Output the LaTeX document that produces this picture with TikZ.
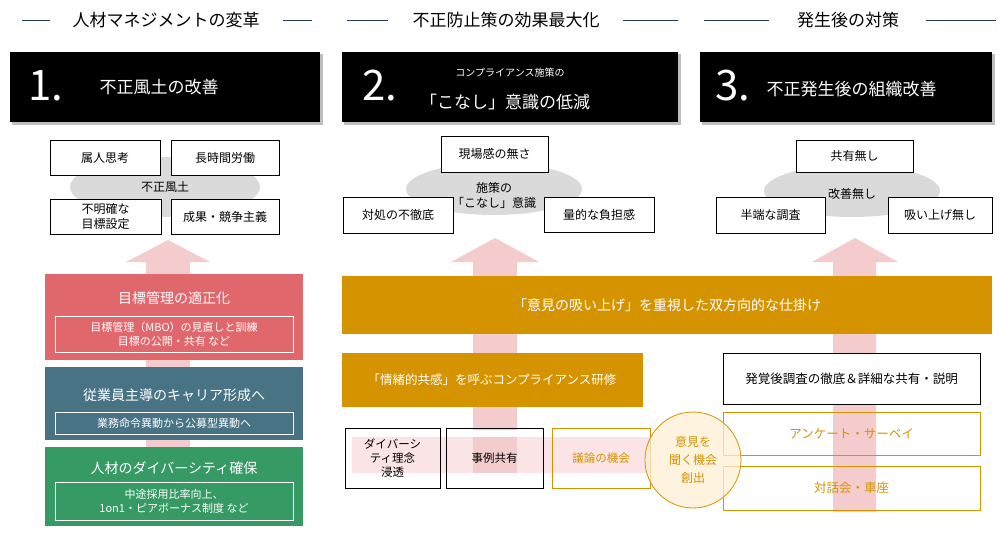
\documentclass[tikz,border=0pt]{standalone}
\usepackage{fontspec}
\setmainfont{Noto Sans CJK JP}
\usetikzlibrary{shapes.geometric}
\definecolor{pinkA}{HTML}{F4CCCD}
\definecolor{pinkB}{HTML}{FBE4E5}
\definecolor{redB}{HTML}{E0676C}
\definecolor{blueB}{HTML}{477385}
\definecolor{greenB}{HTML}{359A63}
\definecolor{orgB}{HTML}{D59300}
\definecolor{grayE}{HTML}{DADADA}
\definecolor{lineC}{HTML}{1F3F4F}
\newcommand\mysetfs[1]{\fontsize{#1pt}{#1pt}\selectfont\setlength{\baselineskip}{1.25\baselineskip}}
\tikzset{
 fs/.style={font=\mysetfs{#1}},
 wbox/.style={draw=black,fill=white,line width=0.8pt,align=center,fs=12},
 hdr/.style={fs=17},
 hl/.style={draw=lineC,line width=0.8pt},
}
\begin{document}
\begin{tikzpicture}[x=1pt,y=-1pt]
\useasboundingbox (0,0) rectangle (1000,540);
\fill[white] (0,0) rectangle (1000,540);
% headers
\draw[hl] (22,20) -- (50,20); \draw[hl] (283,20) -- (312,20);
\node[hdr] (h1) at (166,20) {人材マネジメントの変革};
\draw[hl] (347,20) -- (388,20); \draw[hl] (623,20) -- (678,20);
\node[hdr] (h2) at (506,20) {不正防止策の効果最大化};
\draw[hl] (704,20) -- (769,20); \draw[hl] (926,20) -- (996,20);
\node[hdr] (h3) at (848,20) {発生後の対策};
% black boxes with shadow
\foreach \a/\b in {10/320,342/678,700/992}{
 \fill[black!25] (\a+2,54) rectangle (\b+3,125);
 \fill[black] (\a,52) rectangle (\b,122);}
\node[text=white,fs=42] (n1) at (46,86) {1.};
\node[text=white,fs=17,anchor=west] (t1) at (96,87) {不正風土の改善};
\node[text=white,fs=42] (n2) at (380,86) {2.};
\node[text=white,fs=10] (t2a) at (510,73) {コンプライアンス施策の};
\node[text=white,fs=17] (t2b) at (505,102) {「こなし」意識の低減};
\node[text=white,fs=42] (n3) at (733,86) {3.};
\node[text=white,fs=17,anchor=west] (t3) at (763,89) {不正発生後の組織改善};
% col1 cloud
\node[ellipse,fill=grayE,minimum width=190,minimum height=60,inner sep=0] (e1) at (165,187) {};
\node[fs=12] (e1t) at (165,187) {不正風土};
\node[wbox,minimum width=110,minimum height=35] (b11) at (105,157.5) {属人思考};
\node[wbox,minimum width=108,minimum height=35] (b12) at (225,158) {長時間労働};
\node[wbox,minimum width=111,minimum height=35] (b13) at (105.5,216.5) {不明確な\\目標設定};
\node[wbox,minimum width=108,minimum height=35] (b14) at (225,216.5) {成果・競争主義};
% col1 arrow
\fill[pinkA] (146,520) -- (146,262) -- (126,262) -- (168,240) -- (210,262) -- (190,262) -- (190,520) -- cycle;
\fill[redB] (45,274) rectangle (303,360);
\node[text=white,fs=14] (r1) at (174,298) {目標管理の適正化};
\draw[white,line width=0.8pt] (55,316) rectangle (293,352);
\node[text=white,fs=11,align=center] (r2) at (174,334) {目標管理（MBO）の見直しと訓練\\目標の公開・共有 など};
\fill[blueB] (45,367) rectangle (303,440);
\node[text=white,fs=14] (bl1) at (174,395) {従業員主導のキャリア形成へ};
\draw[white,line width=0.8pt] (55,412) rectangle (293,434);
\node[text=white,fs=11] (bl2) at (174,423) {業務命令異動から公募型異動へ};
\fill[greenB] (45,447) rectangle (303,526);
\node[text=white,fs=14] (g1) at (174,468) {人材のダイバーシティ確保};
\draw[white,line width=0.8pt] (55,482) rectangle (293,520);
\node[text=white,fs=11,align=center] (g2) at (174,501) {中途採用比率向上、\\1on1・ピアボーナス制度 など};
% col2 cloud
\node[ellipse,fill=grayE,minimum width=176,minimum height=52,inner sep=0] (e2) at (494,189) {};
\node[wbox,minimum width=107,minimum height=36] (b21) at (494.5,154) {現場感の無さ};
\node[wbox,minimum width=110,minimum height=36] (b22) at (398,215) {対処の不徹底};
\node[wbox,minimum width=110,minimum height=35] (b23) at (599,214.5) {量的な負担感};
\node[fs=12,align=center] (e2t) at (494,195) {施策の\\「こなし」意識};
% col3 cloud
\node[ellipse,fill=grayE,minimum width=176,minimum height=52,inner sep=0] (e3) at (852,191) {};
\node[wbox,minimum width=117,minimum height=32] (b31) at (854.5,156) {共有無し};
\node[wbox,minimum width=109,minimum height=36] (b32) at (770.5,215) {半端な調査};
\node[wbox,minimum width=104,minimum height=36] (b33) at (940,215) {吸い上げ無し};
\node[fs=12] (e3t) at (852,194) {改善無し};
% arrows col2,3
\fill[pinkA] (473,430) -- (473,262) -- (451,262) -- (495,238) -- (539,262) -- (517,262) -- (517,430) -- cycle;
\fill[pinkA] (833,512) -- (833,262) -- (812,262) -- (855,238) -- (898,262) -- (876,262) -- (876,512) -- cycle;
% orange bars
\fill[orgB] (342,276) rectangle (992,334);
\node[text=white,fs=14] (o1) at (667,305) {「意見の吸い上げ」を重視した双方向的な仕掛け};
\fill[orgB] (342,353) rectangle (643,407);
\node[text=white,fs=12.5] (o2) at (492,380) {「情緒的共感」を呼ぶコンプライアンス研修};
% band
\fill[pinkB] (352,437) rectangle (650,473);
\fill[pinkA] (473,437) rectangle (517,473);
\node[draw=black,line width=0.8pt,minimum width=95,minimum height=60,align=center,fs=11.5] (d1) at (392.5,458) {ダイバーシ\\ティ理念\\浸透};
\node[draw=black,line width=0.8pt,minimum width=97,minimum height=60,fs=11.5] (d2) at (494.5,458) {事例共有};
\node[draw=orgB,line width=0.8pt,minimum width=98,minimum height=60,fs=11.5,text=orgB] (d3) at (601,458) {議論の機会};
% right boxes
\node[wbox,minimum width=257,minimum height=51,fs=12.5] (r3a) at (851.5,378.5) {発覚後調査の徹底＆詳細な共有・説明};
\node[draw=orgB,line width=0.8pt,minimum width=257,minimum height=43,fs=12.5,text=orgB] (r3b) at (851.5,433.5) {アンケート・サーベイ};
\node[draw=orgB,line width=0.8pt,minimum width=257,minimum height=44,fs=12.5,text=orgB] (r3c) at (851.5,488) {対話会・車座};
% circle
\node[circle,draw=orgB,fill=yellow!25!orange!15,fill opacity=0.75,line width=0.8pt,minimum size=96] (c1) at (693,460) {};
\node[fs=12,text=orgB,align=center] (c1t) at (693,460) {意見を\\[3pt]聞く機会\\[3pt]創出};
\end{tikzpicture}
\end{document}
